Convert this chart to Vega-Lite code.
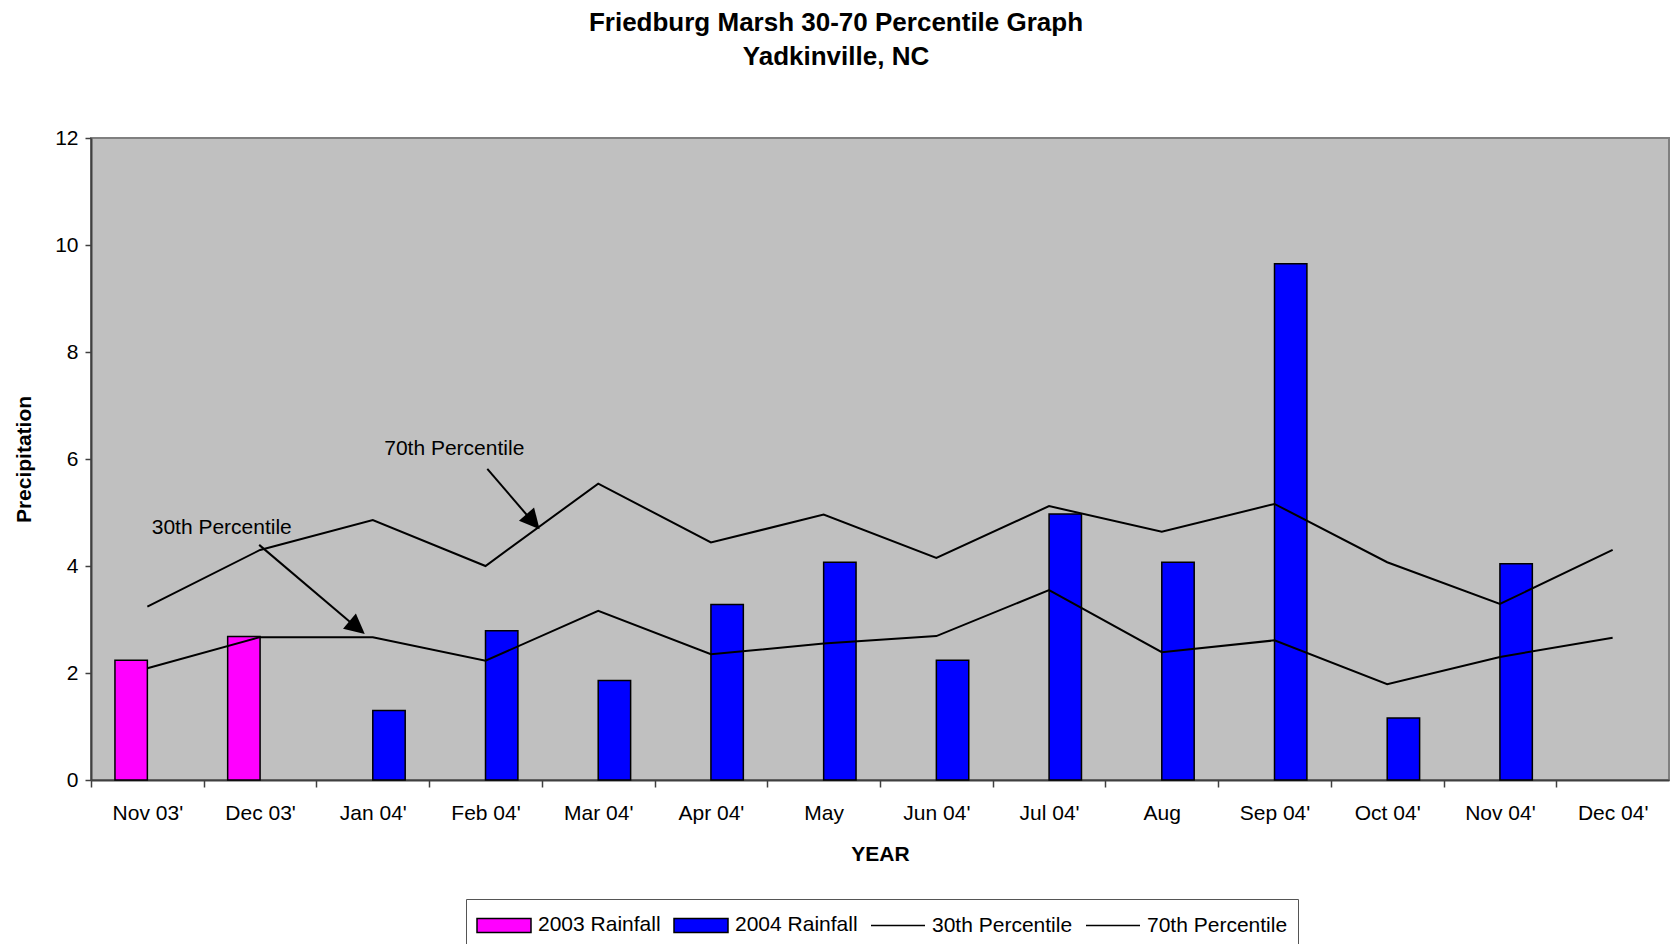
{
  "$schema": "https://vega.github.io/schema/vega-lite/v6.json",
  "width": 1578,
  "height": 642,
  "autosize": {"type": "none"},
  "padding": {"left": 91, "top": 138, "right": 2, "bottom": 164},
  "background": "white",
  "config": {
    "font": "Liberation Sans",
    "view": {"fill": "#C0C0C0", "stroke": "#808080", "strokeWidth": 2},
    "axis": {
      "labelFont": "Liberation Sans", "labelFontSize": 21, "labelColor": "black",
      "titleFont": "Liberation Sans", "titleFontSize": 21, "titleFontWeight": "bold", "titleColor": "black",
      "domainColor": "#404040", "domainWidth": 2, "tickColor": "#404040", "tickWidth": 1.5, "grid": false
    }
  },
  "title": {
    "text": ["Friedburg Marsh 30-70 Percentile Graph", "Yadkinville, NC"],
    "font": "Liberation Sans", "fontSize": 26, "fontWeight": "bold", "color": "black",
    "anchor": "middle", "frame": "group", "dx": -44, "lineHeight": 34, "baseline": "bottom", "offset": 31
  },
  "datasets": {
    "bars": [
      {"month": "Nov 03'", "series": "2003 Rainfall", "value": 2.24},
      {"month": "Dec 03'", "series": "2003 Rainfall", "value": 2.68},
      {"month": "Jan 04'", "series": "2004 Rainfall", "value": 1.3},
      {"month": "Feb 04'", "series": "2004 Rainfall", "value": 2.79},
      {"month": "Mar 04'", "series": "2004 Rainfall", "value": 1.86},
      {"month": "Apr 04'", "series": "2004 Rainfall", "value": 3.28},
      {"month": "May", "series": "2004 Rainfall", "value": 4.07},
      {"month": "Jun 04'", "series": "2004 Rainfall", "value": 2.24},
      {"month": "Jul 04'", "series": "2004 Rainfall", "value": 4.97},
      {"month": "Aug", "series": "2004 Rainfall", "value": 4.07},
      {"month": "Sep 04'", "series": "2004 Rainfall", "value": 9.65},
      {"month": "Oct 04'", "series": "2004 Rainfall", "value": 1.16},
      {"month": "Nov 04'", "series": "2004 Rainfall", "value": 4.04}
    ],
    "lines": [
      {"month": "Nov 03'", "series": "30th Percentile", "value": 2.09},
      {"month": "Dec 03'", "series": "30th Percentile", "value": 2.67},
      {"month": "Jan 04'", "series": "30th Percentile", "value": 2.67},
      {"month": "Feb 04'", "series": "30th Percentile", "value": 2.23},
      {"month": "Mar 04'", "series": "30th Percentile", "value": 3.16},
      {"month": "Apr 04'", "series": "30th Percentile", "value": 2.35},
      {"month": "May", "series": "30th Percentile", "value": 2.55},
      {"month": "Jun 04'", "series": "30th Percentile", "value": 2.69},
      {"month": "Jul 04'", "series": "30th Percentile", "value": 3.55},
      {"month": "Aug", "series": "30th Percentile", "value": 2.39},
      {"month": "Sep 04'", "series": "30th Percentile", "value": 2.61},
      {"month": "Oct 04'", "series": "30th Percentile", "value": 1.79},
      {"month": "Nov 04'", "series": "30th Percentile", "value": 2.3},
      {"month": "Dec 04'", "series": "30th Percentile", "value": 2.66},
      {"month": "Nov 03'", "series": "70th Percentile", "value": 3.24},
      {"month": "Dec 03'", "series": "70th Percentile", "value": 4.3},
      {"month": "Jan 04'", "series": "70th Percentile", "value": 4.86},
      {"month": "Feb 04'", "series": "70th Percentile", "value": 4.0},
      {"month": "Mar 04'", "series": "70th Percentile", "value": 5.54},
      {"month": "Apr 04'", "series": "70th Percentile", "value": 4.44},
      {"month": "May", "series": "70th Percentile", "value": 4.96},
      {"month": "Jun 04'", "series": "70th Percentile", "value": 4.15},
      {"month": "Jul 04'", "series": "70th Percentile", "value": 5.12},
      {"month": "Aug", "series": "70th Percentile", "value": 4.64},
      {"month": "Sep 04'", "series": "70th Percentile", "value": 5.16},
      {"month": "Oct 04'", "series": "70th Percentile", "value": 4.07},
      {"month": "Nov 04'", "series": "70th Percentile", "value": 3.29},
      {"month": "Dec 04'", "series": "70th Percentile", "value": 4.3}
    ],
    "notes": [
      {"label": "70th Percentile", "ax": 3.223, "ay": 6.18},
      {"label": "30th Percentile", "ax": 1.16, "ay": 4.71}
    ],
    "arrows": [
      {"ax": 3.516, "ay": 5.816, "ax2": 3.95, "ay2": 4.75},
      {"ax": 1.492, "ay": 4.395, "ax2": 2.39, "ay2": 2.79}
    ],
    "heads": [
      {"ax": 3.922, "ay": 4.829, "angle": 139},
      {"ax": 2.361, "ay": 2.851, "angle": 130}
    ]
  },
  "layer": [
    {
      "layer": [
        {
          "data": {"name": "bars"},
          "mark": {"type": "bar", "stroke": "black", "strokeWidth": 1.5},
          "encoding": {
            "x": {
              "field": "month", "type": "nominal",
              "scale": {
                "domain": ["Nov 03'", "Dec 03'", "Jan 04'", "Feb 04'", "Mar 04'", "Apr 04'", "May", "Jun 04'", "Jul 04'", "Aug", "Sep 04'", "Oct 04'", "Nov 04'", "Dec 04'"],
                "paddingInner": 0.425, "paddingOuter": 0.2125
              },
              "axis": {"title": "YEAR", "labelAngle": 0, "tickOffset": -56.36, "labelOffset": 56.36, "tickSize": 7, "labelPadding": 15, "titlePadding": 20}
            },
            "xOffset": {"field": "series", "type": "nominal", "scale": {"domain": ["2003 Rainfall", "2004 Rainfall"]}},
            "y": {
              "field": "value", "type": "quantitative",
              "scale": {"domain": [0, 12], "nice": false},
              "axis": {"title": "Precipitation", "values": [0, 2, 4, 6, 8, 10, 12], "format": "d", "tickSize": 6, "labelPadding": 7, "titlePadding": 20}
            },
            "color": {
              "field": "series", "type": "nominal",
              "scale": {
                "domain": ["2003 Rainfall", "2004 Rainfall", "30th Percentile", "70th Percentile"],
                "range": ["#FF00FF", "#0000FF", "#000000", "#000000"]
              },
              "legend": {
                "orient": "none", "legendX": 375, "legendY": 761,
                "direction": "horizontal", "columns": 4, "title": null,
                "labelFont": "Liberation Sans", "labelFontSize": 21, "labelColor": "black",
                "symbolSize": 900, "labelOffset": 30, "columnPadding": 10, "padding": 10,
                "symbolOpacity": 1, "symbolStrokeWidth": 1.5,
                "strokeColor": "#555555", "fillColor": "white"
              }
            }
          }
        },
        {
          "data": {"name": "lines"},
          "mark": {"type": "line", "strokeWidth": 2},
          "encoding": {
            "x": {"field": "month", "type": "nominal"},
            "y": {"field": "value", "type": "quantitative"},
            "stroke": {
              "field": "series", "type": "nominal",
              "scale": {
                "domain": ["2003 Rainfall", "2004 Rainfall", "30th Percentile", "70th Percentile"],
                "range": ["#000000", "#000000", "#000000", "#000000"]
              }
            }
          }
        },
        {
          "data": {"name": "lines"},
          "mark": {"type": "point", "opacity": 0},
          "encoding": {
            "x": {"field": "month", "type": "nominal"},
            "y": {"field": "value", "type": "quantitative"},
            "shape": {
              "field": "series", "type": "nominal",
              "scale": {
                "domain": ["2003 Rainfall", "2004 Rainfall", "30th Percentile", "70th Percentile"],
                "range": ["M-1,-0.47H2.6V0.47H-1Z", "M-1,-0.47H2.6V0.47H-1Z", "M-1,0H2.6", "M-1,0H2.6"]
              }
            }
          }
        }
      ]
    },
    {
      "layer": [
        {
          "data": {"name": "notes"},
          "mark": {"type": "text", "font": "Liberation Sans", "fontSize": 21, "color": "black"},
          "encoding": {
            "x": {"field": "ax", "type": "quantitative", "scale": {"domain": [0, 14], "nice": false}, "axis": null},
            "y": {"field": "ay", "type": "quantitative", "title": "Precipitation"},
            "text": {"field": "label"}
          }
        },
        {
          "data": {"name": "arrows"},
          "mark": {"type": "rule", "strokeWidth": 2, "color": "black"},
          "encoding": {
            "x": {"field": "ax", "type": "quantitative", "axis": null},
            "x2": {"field": "ax2"},
            "y": {"field": "ay", "type": "quantitative", "title": "Precipitation"},
            "y2": {"field": "ay2"}
          }
        },
        {
          "data": {"name": "heads"},
          "mark": {"type": "point", "shape": "M0,-1L1,1L-1,1Z", "filled": true, "color": "black", "size": 400, "opacity": 1},
          "encoding": {
            "x": {"field": "ax", "type": "quantitative", "axis": null},
            "y": {"field": "ay", "type": "quantitative", "title": "Precipitation"},
            "angle": {"field": "angle", "type": "quantitative", "scale": null}
          }
        }
      ]
    }
  ],
  "resolve": {"scale": {"x": "independent"}}
}
